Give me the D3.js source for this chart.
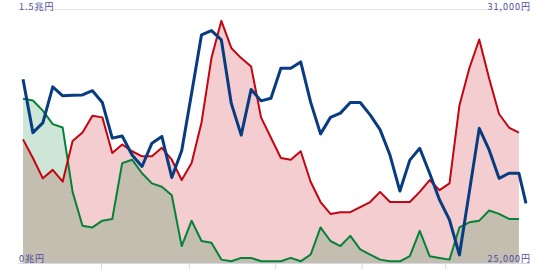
<!DOCTYPE html>
<html>
<head>
<meta charset="utf-8">
<script src="https://cdn.jsdelivr.net/npm/d3@7"></script>
<style>
    body { margin: 0; background: #fff; }
    text { font-family: "Noto Sans CJK JP", "Noto Sans", sans-serif; }
</style>
</head>
<body>
<div id="chart"></div>
<script>
// weekly points (the last date only exists for the blue line)
var DATES = [
    '2021-05-07','2021-05-14','2021-05-21','2021-05-28','2021-06-04','2021-06-11','2021-06-18','2021-06-25',
    '2021-07-02','2021-07-09','2021-07-16','2021-07-23','2021-07-30','2021-08-06','2021-08-13','2021-08-20',
    '2021-08-27','2021-09-03','2021-09-10','2021-09-17','2021-09-24','2021-10-01','2021-10-08','2021-10-15',
    '2021-10-22','2021-10-29','2021-11-05','2021-11-12','2021-11-19','2021-11-26','2021-12-03','2021-12-10',
    '2021-12-17','2021-12-24','2021-12-31','2022-01-07','2022-01-14','2022-01-21','2022-01-28','2022-02-04',
    '2022-02-11','2022-02-18','2022-02-25','2022-03-04','2022-03-11','2022-03-18','2022-03-25','2022-04-01',
    '2022-04-08','2022-04-15','2022-04-22','2022-04-27'
];

// left axis, 兆円
var RED_VALUES = [
    0.73, 0.62, 0.50, 0.55, 0.48, 0.72, 0.77, 0.87, 0.86, 0.65,
    0.70, 0.66, 0.63, 0.63, 0.68, 0.61, 0.49, 0.59, 0.83, 1.21,
    1.43, 1.27, 1.21, 1.16, 0.86, 0.74, 0.62, 0.61, 0.66, 0.48,
    0.36, 0.29, 0.30, 0.30, 0.33, 0.36, 0.42, 0.36, 0.36, 0.36,
    0.42, 0.49, 0.43, 0.47, 0.93, 1.15, 1.32, 1.09, 0.88, 0.80,
    0.77
];
var GREEN_VALUES = [
    0.97, 0.96, 0.90, 0.82, 0.80, 0.42, 0.22, 0.21, 0.25, 0.26,
    0.59, 0.61, 0.53, 0.47, 0.45, 0.40, 0.10, 0.25, 0.13, 0.12,
    0.02, 0.01, 0.03, 0.03, 0.01, 0.01, 0.01, 0.03, 0.01, 0.05,
    0.21, 0.13, 0.10, 0.16, 0.08, 0.05, 0.02, 0.01, 0.01, 0.04,
    0.19, 0.04, 0.03, 0.02, 0.21, 0.24, 0.25, 0.31, 0.29, 0.26,
    0.26
];

// right axis, 円
var BLUE_VALUES = [
    29340, 28080, 28310, 29160, 28950, 28960, 28970, 29070, 28790, 27950,
    28000, 27550, 27280, 27830, 27990, 27020, 27650, 29010, 30390, 30490,
    30270, 28770, 28020, 29100, 28830, 28890, 29600, 29600, 29750, 28800,
    28050, 28440, 28540, 28790, 28790, 28500, 28150, 27550, 26700, 27430,
    27710, 27120, 26490, 26020, 25190, 26680, 28180, 27670, 27000, 27120,
    27120, 26410
];

var LEFT_TICKS   = [0, 1.5],
    LEFT_LABELS  = ['0兆円', '1.5兆円'],
    RIGHT_TICKS  = [25000, 31000],
    RIGHT_LABELS = ['25,000円', '31,000円'];

(function(){
    var WIDTH       = 550,
        HEIGHT      = 270,
        PLOT_LEFT   = 18,    // grid lines start
        PLOT_RIGHT  = 530,   // grid lines end
        DATA_LEFT   = 23,    // first point
        DATA_RIGHT  = 526,   // last point
        PLOT_TOP    = 9,
        PLOT_BOTTOM = 263,

        RED     = '#c3050f',
        GREEN   = '#058237',
        BLUE    = '#083c80',
        LABEL   = '#4b4ba0';

    var parse = d3.utcParse('%Y-%m-%d');
    var dates = DATES.map(parse);

    var svg = d3.select('#chart')
        .append('svg')
        .attr('width', WIDTH)
        .attr('height', HEIGHT);

    var x = d3.scaleUtc()
        .domain([dates[0], dates[dates.length - 1]])
        .range([DATA_LEFT, DATA_RIGHT]);

    var yLeft = d3.scaleLinear()
        .domain([LEFT_TICKS[0], LEFT_TICKS[1]])
        .range([PLOT_BOTTOM, PLOT_TOP]);

    var yRight = d3.scaleLinear()
        .domain([RIGHT_TICKS[0], RIGHT_TICKS[1]])
        .range([PLOT_BOTTOM, PLOT_TOP]);

    // top grid line
    svg.append('line')
        .attr('x1', PLOT_LEFT).attr('x2', PLOT_RIGHT)
        .attr('y1', yLeft(LEFT_TICKS[1]) + 0.5).attr('y2', yLeft(LEFT_TICKS[1]) + 0.5)
        .attr('stroke', '#e4e4e8');

    // areas: red first, green on top of it, both light
    var areaLeft = function(values){
        return d3.area()
            .x(function(d, i){ return x(dates[i]); })
            .y0(yLeft(0))
            .y1(function(d){ return yLeft(d); })(values);
    };

    svg.append('path')
        .attr('d', areaLeft(RED_VALUES))
        .attr('fill', RED)
        .attr('fill-opacity', 0.2);

    svg.append('path')
        .attr('d', areaLeft(GREEN_VALUES))
        .attr('fill', GREEN)
        .attr('fill-opacity', 0.2);

    // bottom axis, tick marks only
    var xAxis = d3.axisBottom(x)
        .ticks(d3.utcMonth.every(2))
        .tickSize(6)
        .tickFormat('');

    var gx = svg.append('g')
        .attr('transform', 'translate(0,' + (PLOT_BOTTOM + 0.5) + ')')
        .call(xAxis);
    gx.select('.domain').remove();
    gx.selectAll('.tick line').attr('stroke', '#d4d8e8');
    gx.append('line')
        .attr('x1', PLOT_LEFT).attr('x2', PLOT_RIGHT)
        .attr('stroke', '#d4d8e8');

    // lines
    var lineLeft = d3.line()
        .x(function(d, i){ return x(dates[i]); })
        .y(function(d){ return yLeft(d); });

    var lineRight = d3.line()
        .x(function(d, i){ return x(dates[i]); })
        .y(function(d){ return yRight(d); });

    svg.append('path')
        .attr('d', lineLeft(GREEN_VALUES))
        .attr('fill', 'none')
        .attr('stroke', GREEN)
        .attr('stroke-width', 2)
        .attr('stroke-linejoin', 'round');

    svg.append('path')
        .attr('d', lineLeft(RED_VALUES))
        .attr('fill', 'none')
        .attr('stroke', RED)
        .attr('stroke-width', 2)
        .attr('stroke-linejoin', 'round');

    svg.append('path')
        .attr('d', lineRight(BLUE_VALUES))
        .attr('fill', 'none')
        .attr('stroke', BLUE)
        .attr('stroke-width', 3)
        .attr('stroke-linejoin', 'round');

    // axis labels, sitting on the top / bottom lines
    svg.selectAll('text.left')
        .data(LEFT_TICKS)
        .enter().append('text')
        .attr('class', 'left')
        .attr('x', PLOT_LEFT + 1)
        .attr('y', function(d){ return yLeft(d) + (d ? 1 : -1); })
        .attr('font-size', 9)
        .attr('letter-spacing', 1)
        .attr('fill', LABEL)
        .text(function(d, i){ return LEFT_LABELS[i]; });

    svg.selectAll('text.right')
        .data(RIGHT_TICKS)
        .enter().append('text')
        .attr('class', 'right')
        .attr('x', PLOT_RIGHT + 1)
        .attr('y', function(d){ return yRight(d) + (d > RIGHT_TICKS[0] ? 1 : -1); })
        .attr('text-anchor', 'end')
        .attr('font-size', 9)
        .attr('letter-spacing', 1)
        .attr('fill', LABEL)
        .text(function(d, i){ return RIGHT_LABELS[i]; });
})();
</script>
</body>
</html>
